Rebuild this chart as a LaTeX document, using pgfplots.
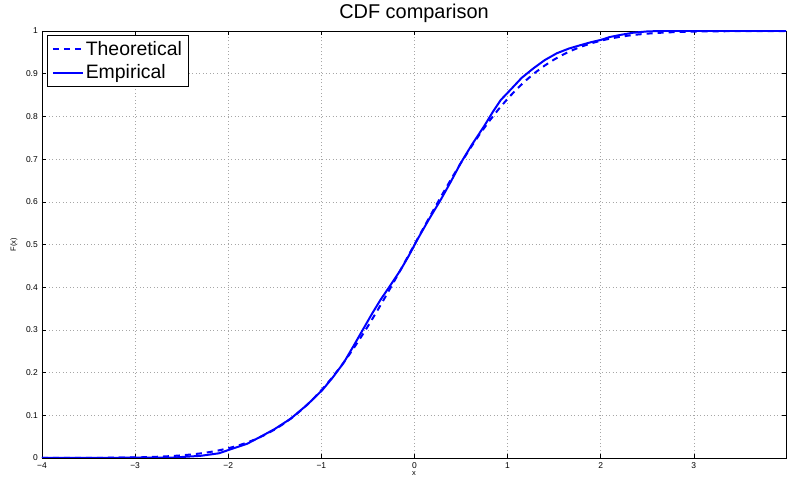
\documentclass[border=0pt]{standalone}
\usepackage{fontspec}
\setmainfont{Liberation Sans}
\usepackage{pgfplots}
\pgfplotsset{compat=1.18}
\definecolor{mblue}{RGB}{0,0,255}
\begin{document}
\begin{tikzpicture}
\begin{axis}[
  scale only axis, width=744bp, height=427bp,
  anchor=south west, at={(0,0)},
  xmin=-4, xmax=3.99, ymin=0, ymax=1,
  xtick={-4,-3,-2,-1,0,1,2,3},
  xticklabels={−4,−3,−2,−1,0,1,2,3},
  ytick={0,0.1,0.2,0.3,0.4,0.5,0.6,0.7,0.8,0.9,1},
  yticklabels={0,0.1,0.2,0.3,0.4,0.5,0.6,0.7,0.8,0.9,1},
  tick align=inside, xtick pos=both, ytick pos=both,
  major tick length=4bp,
  tick style={black, line width=0.5bp},
  axis line style={black, line width=0.6bp},
  grid=major,
  major grid style={gray!70, line width=0.5bp, dash pattern=on 1bp off 2.5bp},
  tick label style={font=\fontsize{8.5}{10}\selectfont},
  xticklabel style={anchor=north, inner sep=0pt, yshift=-4bp},
  yticklabel style={anchor=east, inner sep=0pt, xshift=-4bp},
  title={CDF comparison},
  title style={at={(axis description cs:0.5,1)}, anchor=base, inner sep=0pt, yshift=7bp, font=\fontsize{20}{22}\selectfont},
  xlabel={x}, ylabel={F(x)},
  xlabel style={at={(axis description cs:0.5,0)}, anchor=base, inner sep=0pt, yshift=-17bp, font=\fontsize{7.5}{9}\selectfont},
  ylabel style={at={(axis description cs:-0.0376,0.5)}, anchor=center, inner sep=0pt, font=\fontsize{7.5}{9}\selectfont},
  legend style={at={(axis description cs:0,1)}, anchor=north west, xshift=5bp, yshift=-4bp,
    font=\fontsize{19.5}{22}\selectfont, draw=black, line width=0.6bp,
    inner xsep=4.5bp, inner ysep=4bp, row sep=4bp},
  legend cell align=left,
  legend image code/.code={\draw[#1, line width=2bp] (0bp,0bp) -- (30bp,0bp);},
]
\addplot[mblue, line width=2bp, dash pattern=on 6bp off 5bp] coordinates {
(-4,0.00003) (-3.5,0.00023) (-3.0,0.00135) (-2.9,0.00187) (-2.8,0.00256) (-2.7,0.00347)
(-2.6,0.00466) (-2.5,0.00621) (-2.4,0.00820) (-2.3,0.01072) (-2.2,0.01390) (-2.1,0.01786)
(-2.0,0.02275) (-1.9,0.02872) (-1.8,0.03593) (-1.7,0.04457) (-1.6,0.05480) (-1.5,0.06681)
(-1.4,0.08076) (-1.3,0.09680) (-1.2,0.11507) (-1.1,0.13567) (-1.0,0.15866) (-0.9,0.18406)
(-0.8,0.21186) (-0.7,0.24196) (-0.6,0.27425) (-0.5,0.30854) (-0.4,0.34458) (-0.3,0.38209)
(-0.2,0.42074) (-0.1,0.46017) (0,0.5) (0.1,0.53983) (0.2,0.57926) (0.3,0.61791)
(0.4,0.65542) (0.5,0.69146) (0.6,0.72575) (0.7,0.75804) (0.8,0.78814) (0.9,0.81594)
(1.0,0.84134) (1.1,0.86433) (1.2,0.88493) (1.3,0.90320) (1.4,0.91924) (1.5,0.93319)
(1.6,0.94520) (1.7,0.95543) (1.8,0.96407) (1.9,0.97128) (2.0,0.97725) (2.1,0.98214)
(2.2,0.98610) (2.3,0.98928) (2.4,0.99180) (2.5,0.99379) (2.6,0.99534) (2.7,0.99653)
(2.8,0.99744) (2.9,0.99813) (3.0,0.99865) (3.5,0.99977) (3.99,0.99997)
};
\addlegendentry{Theoretical}
\addplot[mblue, line width=2bp, line join=round] coordinates {
(-4,0) (-2.6,0.001) (-2.3,0.005) (-2.1,0.011) (-1.98,0.020) (-1.8,0.033) (-1.66,0.049)
(-1.5,0.068) (-1.33,0.092) (-1.15,0.125) (-0.99,0.159) (-0.88,0.188) (-0.76,0.223)
(-0.65,0.264) (-0.545,0.304) (-0.45,0.340) (-0.366,0.370) (-0.26,0.404) (-0.15,0.440)
(-0.06,0.474) (0.03,0.511) (0.15,0.557) (0.28,0.604) (0.39,0.647) (0.495,0.690)
(0.62,0.735) (0.745,0.776) (0.84,0.810) (0.925,0.838) (1.03,0.862) (1.15,0.890)
(1.28,0.913) (1.40,0.932) (1.53,0.948) (1.66,0.959) (1.785,0.967) (1.9,0.974)
(2.0,0.979) (2.1,0.986) (2.215,0.991) (2.35,0.996) (2.5,0.999) (2.65,1) (3.99,1)
};
\addlegendentry{Empirical}
\end{axis}
\pgfresetboundingbox
\path[use as bounding box] (-42bp,-27bp) rectangle (748bp,458bp);
\end{tikzpicture}
\end{document}
